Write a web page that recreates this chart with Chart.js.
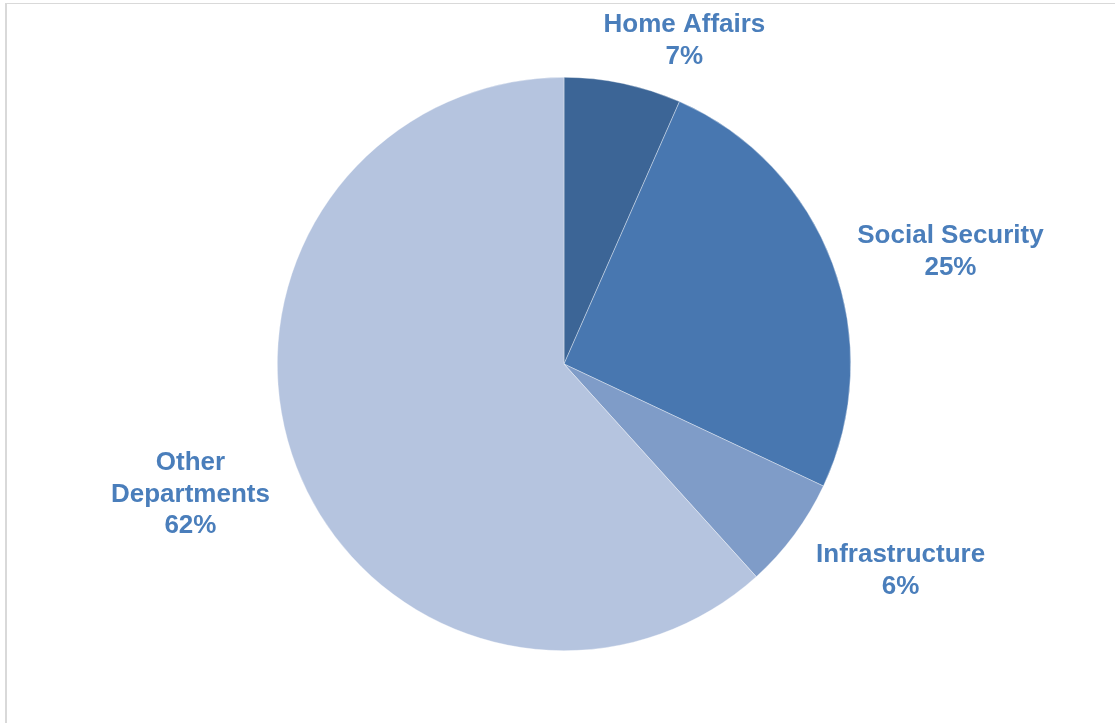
<!DOCTYPE html>
<html>
<head>
<meta charset="utf-8">
<script src="https://cdn.jsdelivr.net/npm/chart.js@4.4.0/dist/chart.umd.min.js"></script>
<style>
    html, body { margin:0; padding:0; background:#fff; }
    #wrap { position:relative; width:1115px; height:723px; }
    #frame { position:absolute; left:5px; top:3px; right:-10px; bottom:-10px; border-left:2px solid #d9d9d9; border-top:1px solid #d9d9d9; pointer-events:none; }
</style>
</head>
<body>
<div id="wrap">
    <canvas id="pieChart" width="1115" height="723"></canvas>
    <div id="frame"></div>
</div>
<script>
/* data (slice angles), labels show rounded percentages */
const labels = ['Home Affairs', 'Social Security', 'Infrastructure', 'Other Departments'];
const shares = [6.6, 25.4, 6.3, 61.7];
const sliceColors = ['#3c6596', '#4877b0', '#7f9cc8', '#b5c4df'];

// label centres, relative to pie centre in units of radius
const labelPos = [[0.42, -1.127], [1.348, -0.391], [1.174, 0.721], [-1.303, 0.455]];
const labelLines = [['Home Affairs'], ['Social Security'], ['Infrastructure'], ['Other', 'Departments']];

const pieLabels = {
    id: 'pieLabels',
    afterDatasetsDraw(chart) {
        const ctx = chart.ctx;
        const arc = chart.getDatasetMeta(0).data[0];
        const cx = arc.x, cy = arc.y, r = arc.outerRadius;
        const total = shares.reduce((s, v) => s + v, 0);
        ctx.save();
        ctx.fillStyle = '#4a7ebb';
        ctx.font = 'bold 26px "Liberation Sans", Arial, sans-serif';
        ctx.textAlign = 'center';
        ctx.textBaseline = 'middle';
        const lh = 31.5;
        shares.forEach((v, i) => {
            const lines = labelLines[i].concat([Math.round(v / total * 100) + '%']);
            const x = cx + labelPos[i][0] * r;
            const y0 = cy + labelPos[i][1] * r - (lines.length - 1) * lh / 2;
            lines.forEach((t, j) => ctx.fillText(t, x, y0 + j * lh));
        });
        ctx.restore();
    }
};

new Chart(document.getElementById('pieChart'), {
    type: 'pie',
    data: {
        labels,
        datasets: [{ data: shares, backgroundColor: sliceColors, borderColor: 'rgba(255,255,255,0.6)', borderWidth: 0.6 }]
    },
    options: {
        responsive: false,
        animation: false,
        layout: { padding: { top: 77, bottom: 72, left: 277, right: 264 } },
        plugins: { legend: { display: false }, tooltip: { enabled: false } }
    },
    plugins: [pieLabels]
});
</script>
</body>
</html>
